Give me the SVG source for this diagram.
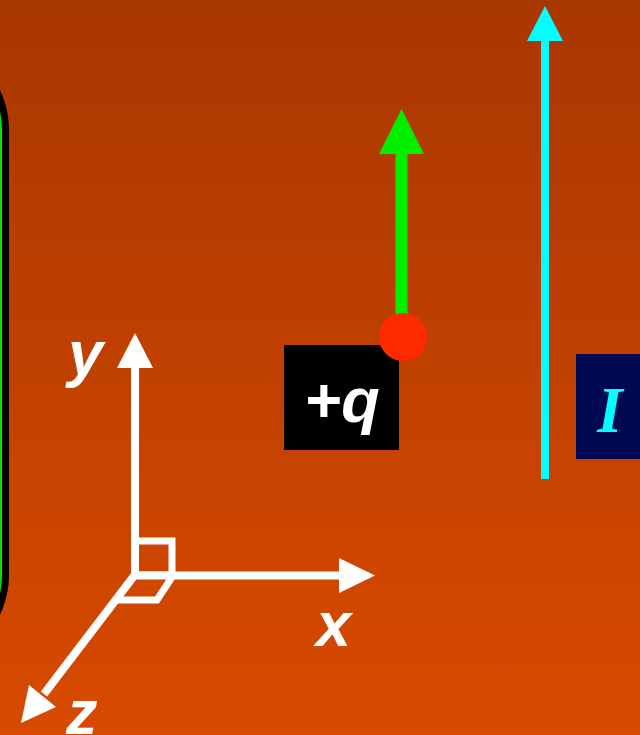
<svg xmlns="http://www.w3.org/2000/svg" width="640" height="735" viewBox="0 0 640 735">
  <defs>
    <linearGradient id="bg" x1="0" y1="0" x2="0" y2="1">
      <stop offset="0" stop-color="#A93700"/>
      <stop offset="1" stop-color="#D84A00"/>
    </linearGradient>
  </defs>
  <style>
    .ax { stroke: #FFFFFF; stroke-width: 8; fill: none; }
    .axthin { stroke: #FFFFFF; stroke-width: 7; fill: none; }
    .head { fill: #FFFFFF; }
    .lbl { font-family: "Liberation Sans", Arial, sans-serif; font-weight: bold; font-style: italic; font-size: 63px; fill: #FFFFFF; }
  </style>
  <rect x="0" y="0" width="640" height="735" fill="url(#bg)"/>

  <g id="left-panel">
    <rect x="-300" y="41" width="305.5" height="623" rx="89" ry="89" fill="#00E800" stroke="#000000" stroke-width="7"/>
  </g>

  <g id="axes">
    <rect class="axthin" x="135" y="541" width="37" height="34"/>
    <polyline class="axthin" points="172,577 157,600 117,600"/>
    <text class="lbl" x="68" y="375">y</text>
    <text class="lbl" x="316" y="646">x</text>
    <text class="lbl" x="66" y="734">z</text>
  </g>

  <g id="charge">
    <rect x="284" y="345" width="115" height="105" fill="#000000"/>
    <text class="lbl" x="342" y="422" text-anchor="middle">+q</text>
  </g>

  <g id="current-label">
    <rect x="576" y="354" width="80" height="105" fill="#000A52"/>
    <text x="610" y="432" text-anchor="middle" font-family="Liberation Serif, 'Times New Roman', serif" font-weight="bold" font-style="italic" font-size="65" fill="#00FFFF">I</text>
  </g>

  <g id="connectors">
    <!-- y axis -->
    <line class="ax" x1="135" y1="579" x2="135" y2="366"/>
    <polygon class="head" points="135,333 153,368 117,368"/>
    <!-- x axis -->
    <line class="ax" x1="131" y1="575.5" x2="341" y2="575.5"/>
    <polygon class="head" points="375,575.5 339,558 339,593"/>
    <!-- z axis -->
    <line class="ax" x1="137" y1="572" x2="44" y2="694"/>
    <polygon class="head" points="21,723 29,685 56,707"/>
    <!-- velocity arrow -->
    <line x1="401.5" y1="337" x2="401.5" y2="152" stroke="#00F000" stroke-width="12"/>
    <polygon points="401.5,109 424,154 379,154" fill="#00F000"/>
    <!-- current arrow -->
    <line x1="545" y1="479" x2="545" y2="39" stroke="#00FFFF" stroke-width="8"/>
    <polygon points="545,6 563,41 527,41" fill="#00FFFF"/>
  </g>

  <g id="charge-dot">
    <circle cx="403" cy="337" r="24" fill="#FF2A00"/>
  </g>
</svg>
